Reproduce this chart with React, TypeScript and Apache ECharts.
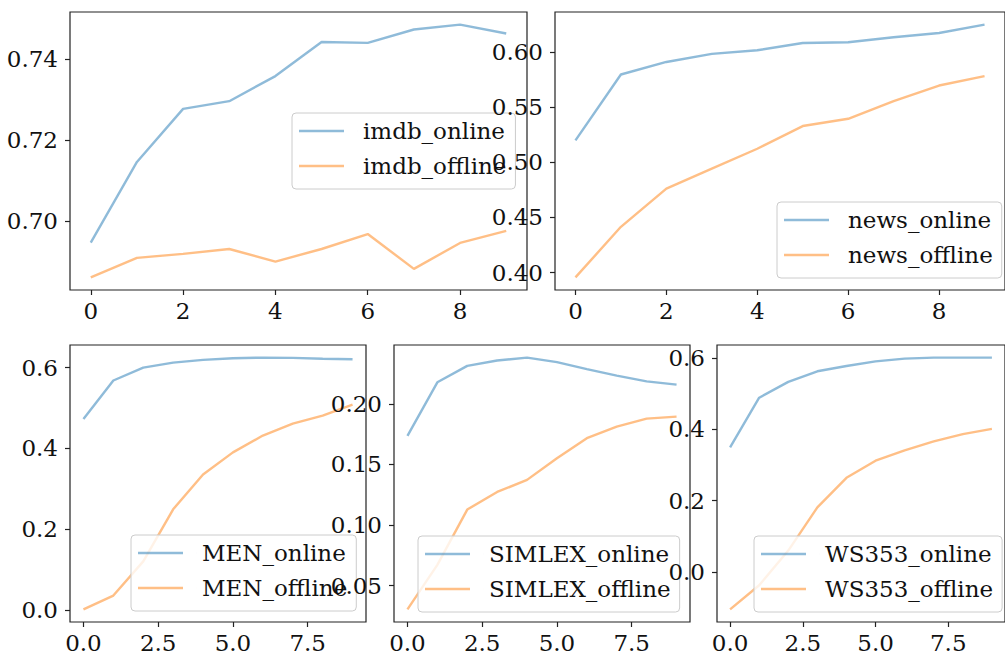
import React, { useEffect, useRef } from "react";
import * as echarts from "echarts";

// x positions (training step index)
const steps = [0, 1, 2, 3, 4, 5, 6, 7, 8, 9];

// series values
const imdbOnline = [0.6948, 0.7147, 0.7278, 0.7297, 0.7359, 0.7443, 0.7441, 0.7474, 0.7486, 0.7464];
const imdbOffline = [0.6862, 0.691, 0.692, 0.6932, 0.6901, 0.6932, 0.6969, 0.6883, 0.6947, 0.6977];
const newsOnline = [0.52, 0.5798, 0.5912, 0.5985, 0.6018, 0.6084, 0.6091, 0.6136, 0.6175, 0.6251];
const newsOffline = [0.3956, 0.4415, 0.4762, 0.4943, 0.5124, 0.533, 0.5396, 0.5556, 0.5698, 0.5783];
const menOnline = [0.4727, 0.568, 0.6, 0.6123, 0.619, 0.623, 0.6247, 0.624, 0.622, 0.6207];
const menOffline = [0.001, 0.0353, 0.12, 0.249, 0.335, 0.39, 0.4316, 0.461, 0.481, 0.508];
const simlexOnline = [0.1735, 0.2177, 0.2313, 0.2357, 0.2381, 0.2344, 0.2286, 0.2232, 0.2185, 0.2158];
const simlexOffline = [0.0303, 0.0671, 0.1127, 0.1272, 0.1372, 0.155, 0.1716, 0.1812, 0.1877, 0.1894];
const ws353Online = [0.3494, 0.4885, 0.533, 0.5627, 0.5775, 0.5905, 0.598, 0.601, 0.601, 0.601];
const ws353Offline = [-0.1049, -0.0373, 0.06, 0.181, 0.264, 0.312, 0.341, 0.366, 0.3866, 0.401];

// tick labels
const topXTicks = [0, 2, 4, 6, 8];
const bottomXTicks = [0, 2.5, 5, 7.5];
const imdbYTicks = [0.7, 0.72, 0.74];
const newsYTicks = [0.4, 0.45, 0.5, 0.55, 0.6];
const menYTicks = [0, 0.2, 0.4, 0.6];
const simlexYTicks = [0.05, 0.1, 0.15, 0.2];
const ws353YTicks = [0, 0.2, 0.4, 0.6];

// series names
const imdbNames = ["imdb_online", "imdb_offline"];
const newsNames = ["news_online", "news_offline"];
const menNames = ["MEN_online", "MEN_offline"];
const simlexNames = ["SIMLEX_online", "SIMLEX_offline"];
const ws353Names = ["WS353_online", "WS353_offline"];

const BLUE = "rgba(31,119,180,0.5)";
const ORANGE = "rgba(255,127,14,0.5)";
const FONT = "'DejaVu Serif', serif";
const FS = 23;

type Panel = {
  names: string[];
  online: number[];
  offline: number[];
  xTicks: number[];
  xDec: number;
  yTicks: number[];
  yDec: number;
  grid: { left: number; top: number; width: number; height: number };
  legend: { left: number; top: number };
};

const panels: Panel[] = [
  {
    names: imdbNames, online: imdbOnline, offline: imdbOffline,
    xTicks: topXTicks, xDec: 0, yTicks: imdbYTicks, yDec: 2,
    grid: { left: 70, top: 12, width: 457, height: 278 },
    legend: { left: 292, top: 113 },
  },
  {
    names: newsNames, online: newsOnline, offline: newsOffline,
    xTicks: topXTicks, xDec: 0, yTicks: newsYTicks, yDec: 2,
    grid: { left: 555, top: 12, width: 457, height: 278 },
    legend: { left: 777, top: 202 },
  },
  {
    names: menNames, online: menOnline, offline: menOffline,
    xTicks: bottomXTicks, xDec: 1, yTicks: menYTicks, yDec: 1,
    grid: { left: 70, top: 345, width: 296, height: 279 },
    legend: { left: 131, top: 535 },
  },
  {
    names: simlexNames, online: simlexOnline, offline: simlexOffline,
    xTicks: bottomXTicks, xDec: 1, yTicks: simlexYTicks, yDec: 2,
    grid: { left: 394, top: 345, width: 296, height: 279 },
    legend: { left: 418, top: 536 },
  },
  {
    names: ws353Names, online: ws353Online, offline: ws353Offline,
    xTicks: bottomXTicks, xDec: 1, yTicks: ws353YTicks, yDec: 1,
    grid: { left: 717, top: 345, width: 296, height: 279 },
    legend: { left: 754, top: 536 },
  },
];

function padRange(a: number[], b: number[]) {
  const all = a.concat(b);
  const lo = Math.min(...all);
  const hi = Math.max(...all);
  const m = (hi - lo) * 0.05;
  return { min: lo - m, max: hi + m };
}

const ICON = "path://M0,0H45V2.4H0Z M58.99,0H59V2.4H58.99Z";

function buildOption() {
  const grid: any[] = [];
  const xAxis: any[] = [];
  const yAxis: any[] = [];
  const series: any[] = [];
  const legend: any[] = [];
  panels.forEach((p, i) => {
    const zb = i * 10;
    grid.push({
      ...p.grid,
      show: true,
      borderColor: "#222",
      borderWidth: 1.2,
      backgroundColor: "transparent",
      containLabel: false,
      z: zb,
    });
    xAxis.push({
      type: "value",
      gridIndex: i,
      min: -0.45,
      max: 9.45,
      z: zb + 5,
      splitLine: { show: false },
      axisLine: { show: false, onZero: false },
      axisTick: {
        show: true,
        customValues: p.xTicks,
        length: 5,
        lineStyle: { color: "#222", width: 1.2 },
      },
      axisLabel: {
        customValues: p.xTicks,
        formatter: (v: number) => v.toFixed(p.xDec),
        fontFamily: FONT,
        fontSize: FS,
        color: "#111",
        margin: 9,
      },
    });
    const r = padRange(p.online, p.offline);
    yAxis.push({
      type: "value",
      gridIndex: i,
      min: r.min,
      max: r.max,
      z: zb + 5,
      splitLine: { show: false },
      axisLine: { show: false, onZero: false },
      axisTick: {
        show: true,
        customValues: p.yTicks,
        length: 5,
        lineStyle: { color: "#222", width: 1.2 },
      },
      axisLabel: {
        customValues: p.yTicks,
        formatter: (v: number) => v.toFixed(p.yDec),
        fontFamily: FONT,
        fontSize: FS,
        color: "#111",
        margin: 12,
      },
    });
    [p.online, p.offline].forEach((vals, k) => {
      series.push({
        type: "line",
        name: p.names[k],
        xAxisIndex: i,
        yAxisIndex: i,
        data: steps.map((s, j) => [s, vals[j]]),
        symbol: "none",
        showSymbol: false,
        color: k === 0 ? BLUE : ORANGE,
        lineStyle: { width: 2.4, color: k === 0 ? BLUE : ORANGE },
        z: zb + 2,
        silent: true,
      });
    });
    legend.push({
      data: p.names,
      left: p.legend.left,
      top: p.legend.top,
      orient: "vertical",
      icon: ICON,
      itemWidth: 59,
      itemHeight: 14,
      itemGap: 9,
      padding: [5, 9, 10, 7],
      backgroundColor: "rgba(255,255,255,0.8)",
      borderColor: "#cccccc",
      borderWidth: 1,
      borderRadius: 4,
      selectedMode: false,
      itemStyle: { borderWidth: 0 },
      textStyle: {
        fontFamily: FONT,
        fontSize: FS,
        color: "#111",
        lineHeight: 26,
      },
      z: zb + 4,
    });
  });
  return {
    animation: false,
    backgroundColor: "#ffffff",
    grid,
    xAxis,
    yAxis,
    series,
    legend,
  };
}

export default function App() {
  const ref = useRef<HTMLDivElement>(null);
  useEffect(() => {
    document.body.style.margin = "0";
    document.body.style.overflow = "hidden";
    if (!ref.current) return;
    const chart = echarts.init(ref.current, undefined, { renderer: "svg" });
    chart.setOption(buildOption() as any);
    return () => chart.dispose();
  }, []);
  return <div ref={ref} style={{ width: 1005, height: 654 }} />;
}
